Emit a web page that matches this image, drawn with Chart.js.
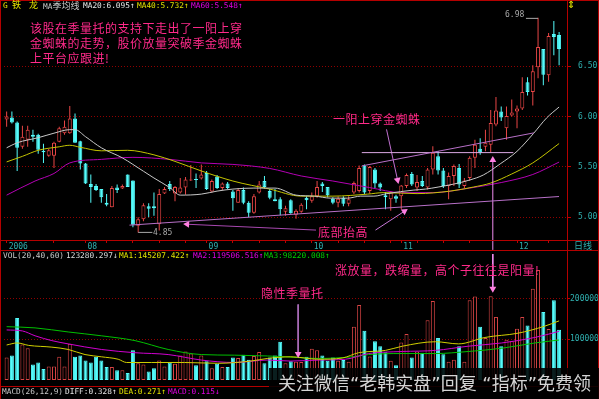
<!DOCTYPE html>
<html><head><meta charset="utf-8">
<script src="https://cdn.jsdelivr.net/npm/chart.js@4.4.0/dist/chart.umd.min.js"></script>
<style>
html,body{margin:0;padding:0;background:#000;width:599px;height:399px;overflow:hidden;}
#wrap{position:relative;width:599px;height:399px;background:#000;}
canvas{position:absolute;left:0;}
.t{position:absolute;white-space:nowrap;font-family:"DejaVu Sans Mono","Noto Sans CJK SC",monospace;font-size:7.8px;line-height:10px;}
.c{font-family:"Noto Sans CJK SC";font-size:9px;}
.ln{position:absolute;background:#b40000;}
.note{position:absolute;white-space:nowrap;font-family:"Noto Sans CJK SC";font-size:12px;color:#ff2a8a;letter-spacing:0.5px;line-height:15px;}
#wm{position:absolute;left:269px;top:368px;width:330px;height:31px;background:rgba(0,0,0,0.88);color:#d4d4d4;font-family:"DejaVu Sans","Noto Sans CJK SC";font-size:18px;line-height:31px;white-space:nowrap;padding-left:9px;box-sizing:border-box;overflow:hidden;}
</style></head>
<body><div id="wrap">
<canvas id="main" width="599" height="250" style="top:0"></canvas>
<canvas id="vol" width="599" height="137" style="top:250px"></canvas>

<div class="ln" style="left:0;top:0;width:599px;height:1px;"></div>
<div class="ln" style="left:0;top:0;width:1px;height:399px;"></div>
<div class="ln" style="left:598px;top:0;width:1px;height:399px;"></div>
<div class="ln" style="left:567px;top:0;width:1px;height:387px;"></div>
<div class="ln" style="left:0;top:240px;width:599px;height:1px;"></div>
<div class="ln" style="left:0;top:250px;width:599px;height:1px;"></div>
<div class="ln" style="left:0;top:386px;width:599px;height:1px;"></div>

<div class="t" style="left:3px;top:1px;color:#e8e800">G</div>
<div class="t c" style="left:12px;top:0px;color:#e8e800">铁</div>
<div class="t c" style="left:29px;top:0px;color:#e8e800">龙</div>
<div class="t" style="left:43px;top:1px;color:#c8c8c8">MA<span class="c">季均线</span></div>
<div class="t" style="left:83px;top:1px;color:#e6e6e6">MA20:6.095↑</div>
<div class="t" style="left:137px;top:1px;color:#e0e000">MA40:5.732↑</div>
<div class="t" style="left:191px;top:1px;color:#e000e0">MA60:5.548↑</div>
<div class="t" style="left:567px;top:0px;color:#e8e800;font-size:10px;font-family:'DejaVu Sans'">⇕</div>

<div class="t" style="left:505px;top:10px;color:#a8a8a8;font-size:8px">6.98</div>
<div class="t" style="left:153px;top:228px;color:#a8a8a8;font-size:8px">4.85</div>
<div class="t c" style="left:574px;top:240px;color:#30b0b0;line-height:11px">日线</div>

<div class="t" style="left:3px;top:251px;color:#c8c8c8">VOL(20,40,60)</div>
<div class="t" style="left:66px;top:251px;color:#dcdcdc">123280.297↓</div>
<div class="t" style="left:119px;top:251px;color:#e0e000">MA1:145207.422↑</div>
<div class="t" style="left:193px;top:251px;color:#e000e0">MA2:119506.516↑</div>
<div class="t" style="left:264px;top:251px;color:#00d000">MA3:98220.008↑</div>

<div class="t" style="left:2px;top:387px;color:#c8c8c8">MACD(26,12,9)</div>
<div class="t" style="left:65px;top:387px;color:#e6e6e6">DIFF:0.328↑</div>
<div class="t" style="left:119px;top:387px;color:#e0e000">DEA:0.271↑</div>
<div class="t" style="left:168px;top:387px;color:#e000e0">MACD:0.115↓</div>

<div class="note" style="left:30px;top:20px">该股在季量托的支持下走出了一阳上穿<br>金蜘蛛的走势，股价放量突破季金蜘蛛<br>上平台应跟进!</div>
<div class="note" style="left:333px;top:111px">一阳上穿金蜘蛛</div>
<div class="note" style="left:318px;top:224px">底部抬高</div>
<div class="note" style="left:335px;top:262px">涨放量，跌缩量，高个子往往是阳量!</div>
<div class="note" style="left:261px;top:285px">隐性季量托</div>

<div id="wm">关注微信“老韩实盘”回复 “指标”免费领</div>
</div>
<script>
// ---- daily candles (index 0 = first visible trading day of 2006-07) ----
const opens = [5.97,5.99,5.94,5.70,5.77,5.82,5.82,5.66,5.61,5.61,
5.75,5.835,5.835,5.98,5.755,5.535,5.33,5.31,5.28,5.145,
5.10,5.295,5.285,5.425,5.365,4.915,4.98,5.11,5.11,4.93,
5.235,5.33,5.235,5.245,5.295,5.365,5.38,5.385,5.44,5.255,
5.405,5.29,5.335,5.255,5.145,5.27,5.145,5.045,5.245,5.36,
5.26,5.18,5.18,5.055,5.17,5.025,5.055,5.195,5.165,5.21,
5.335,5.30,5.185,5.145,5.195,5.135,5.245,5.26,5.515,5.26,
5.475,5.335,5.22,5.18,5.21,5.21,5.31,5.43,5.295,5.36,
5.295,5.475,5.605,5.465,5.31,5.41,5.49,5.31,5.39,5.59,
5.68,5.70,5.72,5.92,6.05,5.885,6.01,6.05,6.08,6.34,
6.245,6.49,6.67,6.41,6.82,6.81];
const closes = [6.00,5.94,5.69,5.80,5.87,5.80,5.67,5.645,5.665,5.74,
5.885,5.90,5.98,5.74,5.535,5.335,5.30,5.27,5.20,5.125,
5.29,5.27,5.31,5.30,4.925,4.98,5.12,5.085,5.09,5.23,
5.28,5.28,5.30,5.295,5.375,5.375,5.37,5.425,5.28,5.36,
5.29,5.335,5.29,5.19,5.27,5.145,5.045,5.21,5.325,5.30,
5.195,5.16,5.08,5.09,5.04,5.065,5.125,5.17,5.21,5.30,
5.31,5.22,5.145,5.185,5.135,5.18,5.34,5.49,5.245,5.50,
5.335,5.295,5.20,5.245,5.185,5.315,5.42,5.325,5.35,5.31,
5.475,5.64,5.465,5.31,5.41,5.51,5.325,5.365,5.59,5.72,
5.64,5.74,5.935,6.06,5.99,6.005,6.04,6.08,6.245,6.245,
6.45,6.69,6.415,6.80,6.79,6.67];
const highs = [6.05,6.05,5.95,5.91,5.91,5.87,5.83,5.73,5.68,5.75,
5.90,5.96,6.105,6.03,5.76,5.54,5.425,5.33,5.28,5.23,
5.31,5.325,5.325,5.425,5.365,5.00,5.14,5.14,5.245,5.28,
5.30,5.36,5.31,5.39,5.40,5.52,5.435,5.525,5.46,5.375,
5.42,5.345,5.35,5.27,5.29,5.295,5.16,5.23,5.36,5.41,
5.28,5.28,5.20,5.115,5.18,5.08,5.14,5.21,5.245,5.36,
5.35,5.30,5.20,5.21,5.21,5.21,5.355,5.515,5.525,5.51,
5.49,5.345,5.25,5.26,5.225,5.32,5.435,5.45,5.42,5.41,
5.49,5.705,5.655,5.49,5.445,5.525,5.53,5.39,5.605,5.77,
5.785,5.87,6.065,6.195,6.10,6.10,6.17,6.11,6.39,6.39,
6.51,6.98,6.67,6.83,6.95,6.84];
const lows = [5.90,5.93,5.46,5.68,5.70,5.75,5.63,5.54,5.60,5.49,
5.745,5.82,5.83,5.74,5.475,5.33,5.145,5.26,5.145,5.11,
5.10,5.24,5.28,5.30,4.90,4.85,4.96,5.00,5.015,4.87,
5.23,5.26,5.16,5.235,5.225,5.36,5.29,5.375,5.27,5.245,
5.28,5.27,5.28,5.065,5.145,5.13,5.00,5.035,5.235,5.285,
5.18,5.16,5.02,5.015,5.035,4.985,5.045,5.08,5.145,5.195,
5.25,5.20,5.13,5.10,5.11,5.11,5.23,5.245,5.23,5.235,
5.29,5.26,5.08,5.065,5.145,5.08,5.29,5.31,5.26,5.30,
5.275,5.425,5.425,5.29,5.18,5.31,5.29,5.29,5.36,5.49,
5.62,5.655,5.64,5.905,5.955,5.77,6.00,5.885,6.065,6.21,
6.11,6.38,6.31,6.345,6.61,6.51];
// volume, thousands of lots
const volumeK = [55,60,152,87,78,38,43,27,33,33,
57,33,89,57,60,48,43,57,48,32,
32,24,24,17,73,41,38,21,29,48,
33,43,40,60,70,65,36,60,46,29,
40,32,32,55,54,62,50,59,69,41,
55,60,94,41,46,45,44,57,77,73,
60,47,55,47,49,45,131,184,121,58,
95,83,68,47,36,92,113,55,70,67,
147,194,103,63,45,50,83,45,196,205,
131,103,206,155,83,99,95,126,155,134,
224,270,167,125,196,123.28];
// moving averages: [day index, value]
const ma20 = [[0,5.69],[2,5.74],[6,5.79],[9,5.835],[12,5.87],[13,5.87],[15,5.80],[18,5.69],[22,5.59],[24,5.525],[28,5.39],[31,5.295],[33,5.22],[37,5.23],[40,5.26],[43,5.28],[47,5.29],[51,5.29],[55,5.22],[58.5,5.21],[61.6,5.19],[64.8,5.19],[67.3,5.21],[69.8,5.21],[72.3,5.235],[74.9,5.255],[77.4,5.27],[79.6,5.28],[82,5.30],[85,5.33],[88,5.37],[90.6,5.42],[93.8,5.53],[97,5.655],[100.1,5.83],[102.6,5.985],[105,6.095]];
const ma40 = [[0,5.55],[3,5.605],[6,5.665],[10,5.70],[12,5.715],[14,5.695],[18,5.66],[23,5.665],[28,5.62],[32,5.555],[37,5.46],[43,5.36],[50,5.28],[56,5.21],[62,5.21],[68.6,5.23],[71.7,5.245],[78,5.235],[84.3,5.26],[88.7,5.30],[92,5.34],[96,5.43],[100,5.54],[105,5.732]];
const ma60 = [[0,5.22],[5.4,5.36],[9,5.435],[12,5.54],[18,5.575],[24,5.595],[31,5.575],[37,5.54],[43,5.525],[50,5.485],[56,5.41],[62,5.36],[69,5.295],[75,5.245],[81,5.245],[88,5.29],[94,5.345],[100,5.425],[105,5.548]];
const volMa1 = [[0,86],[2,91],[4.2,85],[8.6,80.7],[11.7,75],[14.9,62.5],[18,57],[21.2,51],[22.8,43],[27.5,43],[33.8,43],[40.1,41],[46.4,46.5],[49.6,53],[54,57],[59.3,51],[63.8,54],[66.9,67],[72,72.7],[75.2,83],[81.5,94],[85.9,88.7],[90.9,104.5],[97.2,115],[102.2,132],[105,145.2]];
const volMa2 = [[0,123],[3,120.5],[5.4,108.6],[8.6,96.7],[11.7,88.7],[18,75],[24.4,67],[30.7,62.5],[37,49],[43.3,43],[49.6,49],[54,46.5],[59.3,49],[64.4,51],[68.8,65],[75.2,70],[81.5,72.7],[87.7,83],[94.1,91],[100.4,104.5],[105,119.5]];
const volMa3 = [[0,131],[5.4,128],[11.7,118],[18,108.6],[24.4,96.7],[30.7,75],[37,62.5],[43.3,61],[49.6,59],[53,57],[59.3,53],[65.7,57],[68.8,62.5],[75.2,65],[81.5,65],[87.7,70],[94.1,78],[100.4,91],[105,98.2]];
// axis ticks
const priceTicks = [5.00, 5.50, 6.00, 6.50];
const volTicksK = [100, 200];
const monthTickIdx = [0, 15, 38, 58, 75, 97];
const monthLabels = ['2006', '08', '09', '10', '11', '12'];
const weekTickIdx = [9, 19, 24, 29, 34, 43, 48, 53, 63, 68, 73, 78, 83, 88, 103];
// hand-drawn annotations, [day index, price] / [day index, volume K]
const supportLine = [[23.35,4.922],[104.98,5.206]];
const channelLine = [[67.5,5.51],[100.2,5.838]];
const flatLine = [[67.5,5.642],[96.3,5.642]];
const leftArrow = [[58.8,4.873],[34.3,4.931]];
const upArrow = [[70.1,4.873],[75.6,5.06]];
const yangArrow = [[72.2,5.873],[74.3,5.37]];
const breakMain = [[92.4,4.676],[92.4,5.57]];
const lowLeader = [[25,4.85],[27.7,4.85]];
const highLeader = [[98.7,6.975],[101,6.975]];
const breakVol = [[92.4,309.5],[92.4,224]];
const hiddenVol = [[55.4,185.7],[55.4,64]];

const UP = '#e84646', DOWN = '#54fcfc';
const isUp = opens.map((o, i) => closes[i] >= o);
const pts = a => a.map(([x, y]) => ({x, y}));
const line = (a, color, order, extra) => Object.assign({type:'line', data: pts(a), borderColor: color, borderWidth: 1, pointRadius: 0, fill: false, order: order}, extra || {});
const smooth = (a, color) => line(a, color, 2, {cubicInterpolationMode: 'monotone'});
const heads = (list) => ({type:'line', showLine:false, order:-1, clip:false,
  data: list.map(h => ({x: h[0], y: h[1]})),
  pointStyle: 'triangle', pointRadius: 4, pointRotation: list.map(h => h[2]),
  pointBackgroundColor: '#ff7ee0', pointBorderColor: '#ff7ee0', pointBorderWidth: 0});

const common = {responsive:false, animation:false, events:[], devicePixelRatio:1,
  plugins:{legend:{display:false}, tooltip:{enabled:false}}};
const xBase = {type:'linear', min:-0.5, max:106.5, offset:false};
const tickFont = {family:'DejaVu Sans Mono', size:8, lineHeight:1};

new Chart(document.getElementById('main'), {
  type: 'bar',
  data: {datasets: [
    {type:'bar', data: opens.map((o,i)=>({x:i, y:[lows[i], highs[i]]})), backgroundColor: isUp.map(u=>u?UP:DOWN), borderWidth:0, barThickness:1, grouped:false, order:6, inflateAmount:0},
    {type:'bar', data: opens.map((o,i)=>({x:i, y:[o, closes[i]]})), backgroundColor: isUp.map(u=>u?'#000':DOWN), borderColor: isUp.map(u=>u?UP:DOWN), borderWidth:1, borderSkipped:false, barThickness:4, grouped:false, minBarLength:1, order:5, inflateAmount:0},
    smooth(ma20, '#c8c8c8'), smooth(ma40, '#c4c400'), smooth(ma60, '#b400b4'),
    line(supportLine, '#b870c8', 1), line(channelLine, '#b870c8', 1), line(flatLine, '#dca8e4', 1),
    line(leftArrow, '#a848b0', 1), line(upArrow, '#c878d8', 1), line(yangArrow, '#c070d0', 1),
    line(breakMain, '#f08cf0', 1, {clip:false}),
    line(lowLeader, '#a8a8a8', 1), line(highLeader, '#a8a8a8', 1, {clip:false}),
    heads([[34.3,4.931,-87],[75.6,5.06,57],[74.3,5.37,167],[92.4,5.57,0]])
  ]},
  options: Object.assign({}, common, {
    layout:{padding:{left:2, top:1, right:0, bottom:0}},
    scales:{
      x: Object.assign({}, xBase, {position:'bottom',
        afterBuildTicks: s => { s.ticks = monthTickIdx.concat(weekTickIdx).sort((a,b)=>a-b).map(v=>({value:v})); },
        afterFit: s => { s.height = 10; s.paddingLeft = 0; s.paddingRight = 0; },
        grid:{drawOnChartArea:false, drawTicks:true, tickLength:3, tickColor:'#c00000', color:'#c00000', offset:false},
        border:{display:false},
        ticks:{autoSkip:false, maxRotation:0, minRotation:0, align:'start', labelOffset:2, padding:0, color:'#30b0b0', font:tickFont,
          callback: v => { const k = monthTickIdx.indexOf(v); return k >= 0 ? monthLabels[k] : ''; }}}),
      y: {type:'linear', position:'right', min:4.7745, max:7.1176,
        afterBuildTicks: s => { s.ticks = priceTicks.map(v=>({value:v})); },
        afterFit: s => { s.width = 32; s.paddingTop = 0; s.paddingBottom = 0; },
        grid:{color:'#900000', tickColor:'#c00000', tickLength:4, drawTicks:true},
        border:{display:false, dash:[1,2]},
        ticks:{padding:7, color:'#30b0b0', font:tickFont, callback: v => v.toFixed(2)}}
    }
  })
});

new Chart(document.getElementById('vol'), {
  type: 'bar',
  data: {datasets: [
    {type:'bar', data: volumeK.map((v,i)=>({x:i, y:v})), backgroundColor: isUp.map(u=>u?'#000':DOWN), borderColor: isUp.map(u=>u?'#d84444':DOWN), borderWidth:1, borderSkipped:false, barThickness:4, grouped:false, order:5, inflateAmount:0},
    smooth(volMa1, '#d0d000'), smooth(volMa2, '#d000d0'), smooth(volMa3, '#00c000'),
    line(breakVol, '#f08cf0', 1, {clip:false}), line(hiddenVol, '#b070c0', 1),
    heads([[92.4,224,180],[55.4,64,180]])
  ]},
  options: Object.assign({}, common, {
    layout:{padding:{left:2, top:0, right:0, bottom:7}},
    scales:{
      x: Object.assign({}, xBase, {display:false}),
      y: {type:'linear', position:'right', min:0, max:309.5,
        afterBuildTicks: s => { s.ticks = volTicksK.map(v=>({value:v})); },
        afterFit: s => { s.width = 32; s.paddingTop = 0; s.paddingBottom = 0; },
        grid:{color:'#900000', tickColor:'#c00000', tickLength:3, drawTicks:true},
        border:{display:false, dash:[1,2]},
        ticks:{padding:0, color:'#30b0b0', font:tickFont, callback: v => String(v * 1000)}}
    }
  })
});
</script>
</body></html>
